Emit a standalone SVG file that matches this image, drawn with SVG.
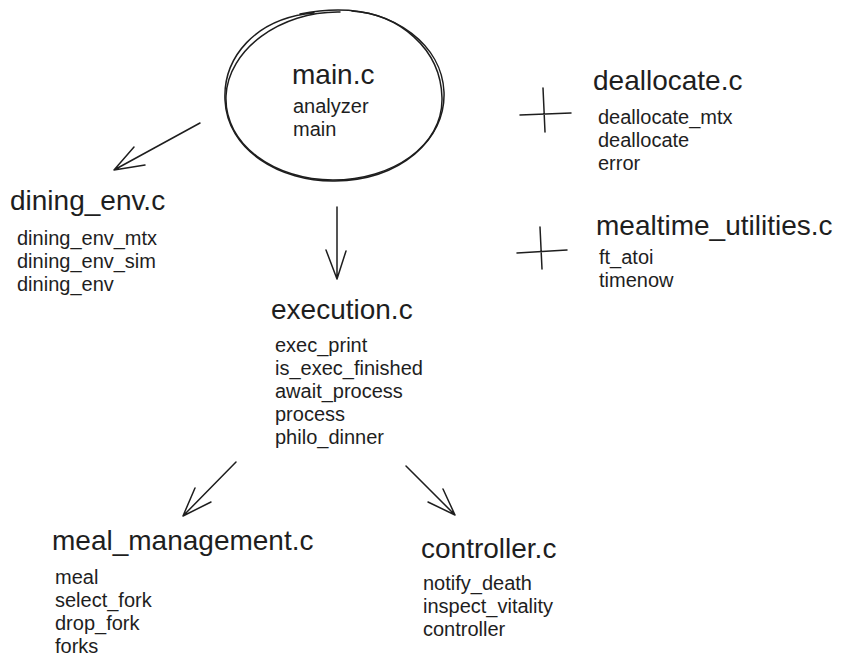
<svg xmlns="http://www.w3.org/2000/svg" width="842" height="665" viewBox="0 0 842 665">
<style>
.t{font-family:"Liberation Sans",Arial,sans-serif;font-size:28px;fill:#1e1e1e}
.i{font-family:"Liberation Sans",Arial,sans-serif;font-size:20px;fill:#1e1e1e}
.s{fill:none;stroke:#1e1e1e;stroke-width:1.5;stroke-linecap:round;stroke-linejoin:round}
</style>
<rect width="842" height="665" fill="#ffffff"/>
<g id="main">
<path class="s" d="M314 13 C255 18 223 58 225 100 C227 150 280 182 335 181 C400 180 446 140 444 92 C442 45 395 10 338 10 C325 10 315 11 300 14"/>
<path class="s" d="M340 12 C280 11 228 50 226 96 C224 145 275 180 333 180 C392 180 443 146 442 98 C441 48 398 14 352 11"/>
<text class="t" x="292" y="84">main.c</text>
<text class="i" x="293" y="113">analyzer</text>
<text class="i" x="293" y="136">main</text>
</g>
<g id="dining_env">
<text class="t" x="10" y="210">dining_env.c</text>
<text class="i" x="17" y="245">dining_env_mtx</text>
<text class="i" x="17" y="268">dining_env_sim</text>
<text class="i" x="17" y="291">dining_env</text>
</g>
<g id="deallocate">
<path class="s" d="M543 88 L545 132 M520 115 L571 113"/>
<text class="t" x="593" y="90">deallocate.c</text>
<text class="i" x="598" y="124">deallocate_mtx</text>
<text class="i" x="598" y="147">deallocate</text>
<text class="i" x="598" y="170">error</text>
</g>
<g id="mealtime_utilities">
<path class="s" d="M540 227 L542 269 M517 253 L567 250"/>
<text class="t" x="596" y="235">mealtime_utilities.c</text>
<text class="i" x="599" y="264">ft_atoi</text>
<text class="i" x="599" y="287">timenow</text>
</g>
<g id="execution">
<text class="t" x="271" y="319">execution.c</text>
<text class="i" x="275" y="352">exec_print</text>
<text class="i" x="275" y="375">is_exec_finished</text>
<text class="i" x="275" y="398">await_process</text>
<text class="i" x="275" y="421">process</text>
<text class="i" x="275" y="444">philo_dinner</text>
</g>
<g id="meal_management">
<text class="t" x="52" y="550">meal_management.c</text>
<text class="i" x="55" y="584">meal</text>
<text class="i" x="55" y="607">select_fork</text>
<text class="i" x="55" y="630">drop_fork</text>
<text class="i" x="55" y="653">forks</text>
</g>
<g id="controller">
<text class="t" x="421" y="558">controller.c</text>
<text class="i" x="423" y="590">notify_death</text>
<text class="i" x="423" y="613">inspect_vitality</text>
<text class="i" x="423" y="636">controller</text>
</g>
<g id="connectors">
<path class="s" d="M200 123 L114 170 M114 170 L134 147 M114 170 L145 165"/>
<path class="s" d="M337 207 L337 279 M337 279 L326 250 M337 279 L346 251"/>
<path class="s" d="M236 462 L183 516 M183 516 L195 488 M183 516 L211 502"/>
<path class="s" d="M406 466 L455 515 M455 515 L443 489 M455 515 L428 502"/>
</g>
</svg>
